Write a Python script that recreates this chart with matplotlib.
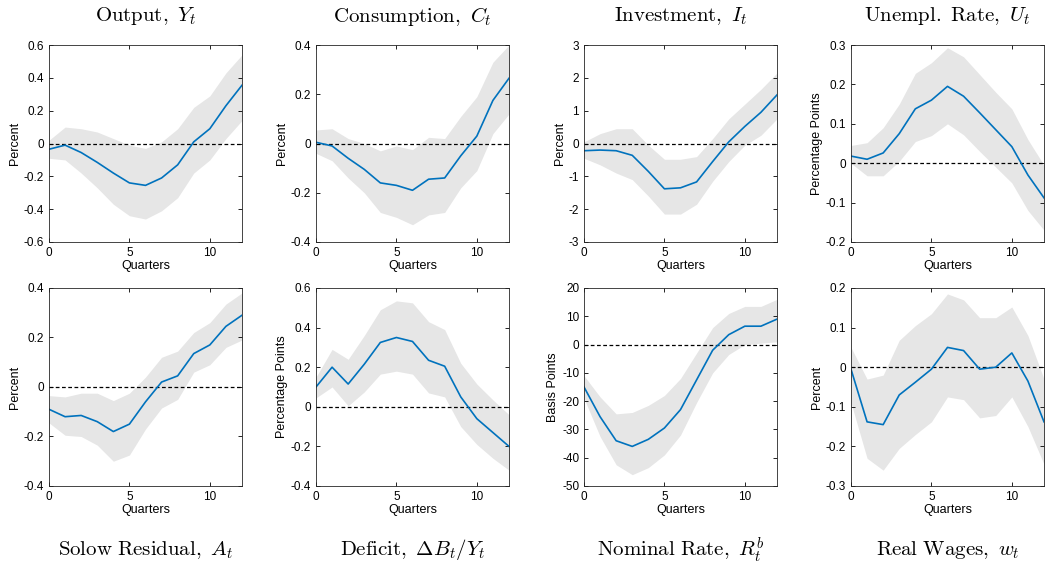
import matplotlib

matplotlib.use("Agg")
import matplotlib.pyplot as plt
import numpy as np
from matplotlib.ticker import FormatStrFormatter

plt.rcParams["font.family"] = ["Liberation Sans", "DejaVu Sans"]
plt.rcParams["mathtext.fontset"] = "cm"

quarters = list(range(13))

titles = [
    r"$\mathrm{Output,}\ Y_t$",
    r"$\mathrm{Consumption,}\ C_t$",
    r"$\mathrm{Investment,}\ I_t$",
    r"$\mathrm{Unempl.\ Rate,}\ U_t$",
    r"$\mathrm{Solow\ Residual,}\ A_t$",
    r"$\mathrm{Deficit,}\ \Delta B_t/Y_t$",
    r"$\mathrm{Nominal\ Rate,}\ R_t^b$",
    r"$\mathrm{Real\ Wages,}\ w_t$",
]
ylabels = ["Percent", "Percent", "Percent", "Percentage Points",
           "Percent", "Percentage Points", "Basis Points", "Percent"]
ylims = [(-0.6, 0.6), (-0.4, 0.4), (-3, 3), (-0.2, 0.3),
         (-0.4, 0.4), (-0.4, 0.6), (-50, 20), (-0.3, 0.2)]
ysteps = [0.2, 0.2, 1, 0.1, 0.2, 0.2, 10, 0.1]

output_mean = [-0.035, -0.01, -0.055, -0.115, -0.18, -0.24, -0.255, -0.21, -0.13, 0.01, 0.09, 0.23, 0.355]
output_hi = [0.02, 0.10, 0.09, 0.07, 0.03, -0.01, -0.03, 0.01, 0.09, 0.22, 0.29, 0.43, 0.54]
output_lo = [-0.09, -0.10, -0.18, -0.27, -0.37, -0.44, -0.46, -0.41, -0.33, -0.18, -0.10, 0.03, 0.14]

cons_mean = [0.005, -0.01, -0.06, -0.105, -0.16, -0.17, -0.19, -0.145, -0.14, -0.05, 0.03, 0.175, 0.265]
cons_hi = [0.055, 0.06, 0.02, 0.0, -0.03, -0.01, -0.025, 0.025, 0.02, 0.11, 0.19, 0.33, 0.40]
cons_lo = [-0.04, -0.07, -0.14, -0.20, -0.28, -0.30, -0.33, -0.29, -0.28, -0.18, -0.11, 0.04, 0.12]

inv_mean = [-0.22, -0.20, -0.22, -0.36, -0.85, -1.38, -1.35, -1.17, -0.55, 0.05, 0.52, 0.95, 1.48]
inv_hi = [0.05, 0.30, 0.45, 0.45, -0.05, -0.48, -0.48, -0.40, 0.15, 0.75, 1.20, 1.65, 2.15]
inv_lo = [-0.45, -0.65, -0.90, -1.10, -1.60, -2.15, -2.15, -1.85, -1.15, -0.55, -0.05, 0.25, 0.75]

unemp_mean = [0.018, 0.010, 0.026, 0.075, 0.138, 0.160, 0.195, 0.170, 0.128, 0.085, 0.042, -0.030, -0.088]
unemp_hi = [0.045, 0.052, 0.09, 0.15, 0.228, 0.255, 0.293, 0.27, 0.225, 0.18, 0.138, 0.06, -0.005]
unemp_lo = [0.0, -0.032, -0.032, 0.005, 0.055, 0.07, 0.10, 0.072, 0.03, -0.01, -0.05, -0.12, -0.17]

solow_mean = [-0.09, -0.12, -0.115, -0.14, -0.18, -0.15, -0.06, 0.02, 0.045, 0.135, 0.17, 0.245, 0.29]
solow_hi = [-0.035, -0.04, -0.025, -0.025, -0.055, -0.025, 0.04, 0.12, 0.145, 0.22, 0.26, 0.335, 0.38]
solow_lo = [-0.145, -0.195, -0.20, -0.235, -0.30, -0.275, -0.17, -0.085, -0.05, 0.06, 0.09, 0.16, 0.19]

deficit_mean = [0.10, 0.20, 0.115, 0.215, 0.325, 0.35, 0.33, 0.235, 0.205, 0.05, -0.06, -0.13, -0.20]
deficit_hi = [0.15, 0.29, 0.24, 0.36, 0.49, 0.535, 0.525, 0.43, 0.39, 0.22, 0.115, 0.035, -0.04]
deficit_lo = [0.045, 0.10, 0.005, 0.075, 0.165, 0.18, 0.165, 0.07, 0.05, -0.10, -0.19, -0.26, -0.32]

rate_mean = [-15, -25.5, -34, -36, -33.5, -29.5, -23, -12.5, -2, 3.5, 6.5, 6.5, 9]
rate_hi = [-11, -18.5, -24.5, -24, -21.5, -18, -12, -3, 6, 11, 13.5, 13.5, 16]
rate_lo = [-19, -32.5, -42.5, -46, -43.5, -39, -32, -20.5, -10, -3.5, 0, 0.5, 1]

wage_mean = [-0.005, -0.138, -0.145, -0.07, -0.038, -0.005, 0.05, 0.042, -0.005, 0.0, 0.036, -0.035, -0.138]
wage_hi = [0.05, -0.03, -0.02, 0.068, 0.105, 0.135, 0.185, 0.17, 0.125, 0.125, 0.152, 0.08, -0.03]
wage_lo = [-0.09, -0.23, -0.26, -0.205, -0.17, -0.138, -0.075, -0.082, -0.128, -0.122, -0.075, -0.15, -0.245]

series = [
    (output_mean, output_lo, output_hi),
    (cons_mean, cons_lo, cons_hi),
    (inv_mean, inv_lo, inv_hi),
    (unemp_mean, unemp_lo, unemp_hi),
    (solow_mean, solow_lo, solow_hi),
    (deficit_mean, deficit_lo, deficit_hi),
    (rate_mean, rate_lo, rate_hi),
    (wage_mean, wage_lo, wage_hi),
]

fig = plt.figure(figsize=(10.49, 5.65), dpi=100)
W, H = 1049, 565
lefts = [49, 316, 584, 851]
width = 193
rows = [(45, 242), (288, 486)]

for i, (mean, lo, hi) in enumerate(series):
    r, c = divmod(i, 4)
    top, bottom = rows[r]
    ax = fig.add_axes([lefts[c] / W, 1 - bottom / H, width / W, (bottom - top) / H])
    ax.fill_between(quarters, lo, hi, color="#e6e6e6", linewidth=0)
    ax.axhline(0, color="black", linestyle="--", linewidth=0.9, dashes=(3, 2))
    ax.plot(quarters, mean, color="#0072bd", linewidth=1.2)
    ax.set_xlim(0, 12)
    y0, y1 = ylims[i]
    ax.set_ylim(y0, y1)
    ticks = np.round(np.arange(y0, y1 + ysteps[i] / 2, ysteps[i]), 6)
    ax.set_yticks(ticks)
    ax.yaxis.set_major_formatter(FormatStrFormatter("%g"))
    ax.set_xticks([0, 5, 10])
    ax.tick_params(direction="in", top=True, right=True, labelsize=8.5, length=3, width=0.6)
    for s in ax.spines.values():
        s.set_linewidth(0.6)
        s.set_color("#262626")
    ax.set_xlabel("Quarters", fontsize=9, labelpad=1)
    ax.set_ylabel(ylabels[i], fontsize=9, labelpad=2)
    cx = (lefts[c] + width / 2) / W
    ty = 1 - 16 / H if r == 0 else 1 - 550 / H
    fig.text(cx, ty, titles[i], ha="center", va="center", fontsize=15)

fig.savefig("out.png", dpi=100)
